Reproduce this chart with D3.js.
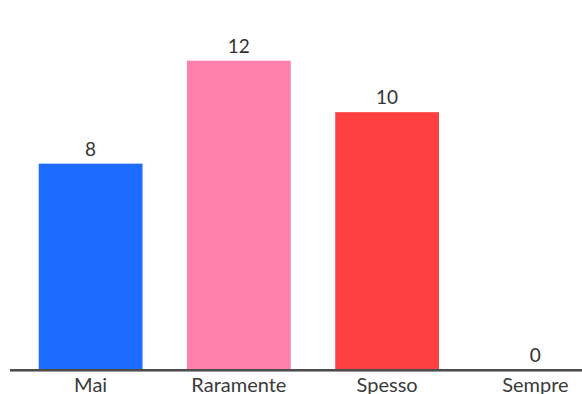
<!DOCTYPE html>
<meta charset="utf-8">
<style>
    body { margin: 0; background: #fff; }
    svg { display: block; }
    .val { font-family: Lato, sans-serif; font-size: 19px; fill: #333; text-anchor: middle; }
    .cat { font-family: Lato, sans-serif; font-size: 20px; fill: #3a3a3a; text-anchor: middle; }
</style>
<svg width="582" height="394"></svg>
<script src="https://d3js.org/d3.v7.min.js"></script>
<script>
    var categories = ["Mai", "Raramente", "Spesso", "Sempre"];
    var values = [8, 12, 10, 0];
    var colors = ["#1e6bff", "#ff80aa", "#ff4040", "#999"];

    var svg = d3.select("svg");

    var x = d3.scaleBand()
        .domain(categories)
        .range([16.5, 609.5])
        .paddingInner(0.3)
        .paddingOuter(0.15);

    var y = d3.scaleLinear()
        .domain([0, 12])
        .range([369.5, 60.7]);

    svg.append("g")
        .selectAll("rect")
        .data(values)
        .join("rect")
        .attr("x", function(d, i) { return x(categories[i]); })
        .attr("y", function(d) { return y(d); })
        .attr("width", x.bandwidth())
        .attr("height", function(d) { return y(0) - y(d); })
        .attr("fill", function(d, i) { return colors[i]; });

    svg.append("g")
        .selectAll("text")
        .data(values)
        .join("text")
        .attr("class", "val")
        .attr("x", function(d, i) { return x(categories[i]) + x.bandwidth() / 2; })
        .attr("y", function(d) { return y(d) - 8; })
        .text(function(d) { return d; });

    // baseline
    svg.append("rect")
        .attr("x", 10)
        .attr("y", 369)
        .attr("width", 572)
        .attr("height", 2)
        .attr("fill", "#4d4d4d");
    svg.append("rect")
        .attr("x", 10)
        .attr("y", 371)
        .attr("width", 572)
        .attr("height", 1)
        .attr("fill", "#9a9a9a");

    svg.append("g")
        .selectAll("text")
        .data(categories)
        .join("text")
        .attr("class", "cat")
        .attr("x", function(d) { return x(d) + x.bandwidth() / 2; })
        .attr("y", 392)
        .text(function(d) { return d; });
</script>
